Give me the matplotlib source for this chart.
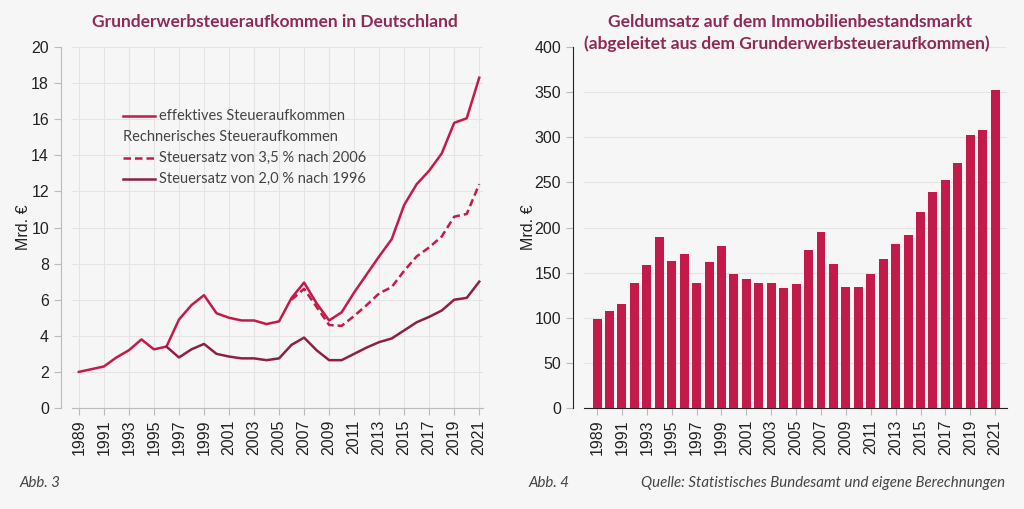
import matplotlib
matplotlib.use('agg')
import matplotlib.pyplot as plt
import numpy as np
from matplotlib.lines import Line2D

# ---- data ----
jahre = list(range(1989, 2022))
effektiv = [2.0, 2.15, 2.3, 2.8, 3.2, 3.8, 3.25, 3.4, 4.9, 5.7, 6.25, 5.25, 5.0, 4.85, 4.85,
            4.65, 4.8, 6.1, 6.95, 5.8, 4.85, 5.3, 6.4, 7.4, 8.4, 9.35, 11.25, 12.4, 13.15,
            14.1, 15.8, 16.05, 18.3]
jahre_35 = list(range(2006, 2022))
satz_35 = [6.0, 6.6, 5.6, 4.6, 4.55, 5.1, 5.7, 6.35, 6.7, 7.6, 8.4, 8.9, 9.5, 10.6, 10.75, 12.4]
jahre_20 = list(range(1996, 2022))
satz_20 = [3.4, 2.8, 3.25, 3.55, 3.0, 2.85, 2.75, 2.75, 2.65, 2.75, 3.5, 3.9, 3.2, 2.65, 2.65,
           3.0, 3.35, 3.65, 3.85, 4.3, 4.75, 5.05, 5.4, 6.0, 6.1, 7.0]
umsatz = [99, 107, 115, 139, 159, 189, 163, 171, 139, 162, 179, 149, 143, 138, 138, 133, 137,
          175, 195, 160, 134, 134, 148, 165, 182, 192, 217, 239, 253, 271, 303, 308, 352]
xticks = list(range(1989, 2022, 2))

BG = '#f6f6f6'
ROT = '#c41a4a'
DUNKEL = '#8e1f45'
TITEL = '#8e2a57'
GRID = '#e4e4e4'
TICKFONT = 'Liberation Sans'
TXTFONT = 'Lato'

fig = plt.figure(figsize=(10.24, 5.09), dpi=100, facecolor=BG)
W, H = 1024, 509

def px_axes(x0, y0, x1, y1):
    return fig.add_axes([x0 / W, 1 - y1 / H, (x1 - x0) / W, (y1 - y0) / H])

def style(ax):
    ax.set_facecolor(BG)
    for s in ['top', 'right']:
        ax.spines[s].set_visible(False)
    ax.spines['left'].set_position(('outward', 8))
    ax.spines['left'].set_color('#bbbbbb')
    ax.spines['bottom'].set_color('#bbbbbb')
    ax.tick_params(colors='#222222', labelsize=11.5, length=5, color='#bbbbbb')
    for lab in ax.get_xticklabels() + ax.get_yticklabels():
        lab.set_fontfamily(TICKFONT)
    ax.set_ylabel('Mrd. €', fontfamily=TICKFONT, fontsize=11.5, color='#222222')

# ---- left chart ----
ax1 = px_axes(72, 47, 483, 408)
ax1.plot(jahre, effektiv, color=ROT, lw=1.8, zorder=3)
ax1.plot(jahre_35, satz_35, color=ROT, lw=1.8, ls=(0, (3, 1.6)), zorder=3)
ax1.plot(jahre_20, satz_20, color=DUNKEL, lw=1.8, zorder=3)
ax1.set_xlim(1988.45, 2021.3)
ax1.set_ylim(0, 20)
ax1.set_yticks(range(0, 21, 2))
ax1.set_xticks(xticks)
ax1.set_xticklabels([str(j) for j in xticks], rotation=90)
ax1.grid(True, color=GRID, lw=0.8)
ax1.set_axisbelow(True)
style(ax1)
ax1.yaxis.set_label_coords(-0.1, 0.5)

# legend drawn by hand
leg = [(116, ROT, '-', 'effektives Steueraufkommen'),
       (137, None, None, 'Rechnerisches Steueraufkommen'),
       (158, ROT, (0, (3, 1.6)), 'Steuersatz von 3,5 % nach 2006'),
       (179, DUNKEL, '-', 'Steuersatz von 2,0 % nach 1996')]
for ypix, col, ls, txt in leg:
    yf = 1 - ypix / H
    if col is None:
        fig.text(123 / W, yf, txt, fontfamily=TXTFONT, fontsize=10.5, color='#444444', va='center')
    else:
        fig.add_artist(Line2D([123 / W, 155 / W], [yf, yf], color=col, lw=1.8, ls=ls))
        fig.text(159 / W, yf, txt, fontfamily=TXTFONT, fontsize=10.5, color='#444444', va='center')

fig.text(275 / W, 1 - 22 / H, 'Grunderwerbsteueraufkommen in Deutschland', ha='center',
         va='center', fontfamily=TXTFONT, fontsize=12.5, fontweight='bold', color=TITEL)

# ---- right chart ----
ax2 = px_axes(584, 47, 1007, 408)
ax2.bar(jahre, umsatz, width=0.72, color=ROT, zorder=3)
ax2.set_xlim(1987.95, 2021.95)
ax2.set_ylim(0, 400)
ax2.set_yticks(range(0, 401, 50))
ax2.set_xticks(xticks)
ax2.set_xticklabels([str(j) for j in xticks], rotation=90)
ax2.grid(True, axis='y', color=GRID, lw=0.8)
ax2.set_axisbelow(True)
style(ax2)
ax2.spines['left'].set_color('#222222')
ax2.spines['bottom'].set_color('#222222')
ax2.yaxis.set_label_coords(-0.113, 0.5)

fig.text(790 / W, 1 - 22 / H, 'Geldumsatz auf dem Immobilienbestandsmarkt', ha='center',
         va='center', fontfamily=TXTFONT, fontsize=12.5, fontweight='bold', color=TITEL)
fig.text(787 / W, 1 - 44 / H, '(abgeleitet aus dem Grunderwerbsteueraufkommen)', ha='center',
         va='center', fontfamily=TXTFONT, fontsize=12.5, fontweight='bold', color=TITEL)

# captions
for x, txt, ha in [(19, 'Abb. 3', 'left'), (528, 'Abb. 4', 'left'),
                   (1005, 'Quelle: Statistisches Bundesamt und eigene Berechnungen', 'right')]:
    fig.text(x / W, 1 - 483 / H, txt, ha=ha, va='center', fontfamily=TXTFONT,
             fontsize=10.8, style='italic', color='#444444')

fig.savefig('out.png', dpi=100, facecolor=BG)
